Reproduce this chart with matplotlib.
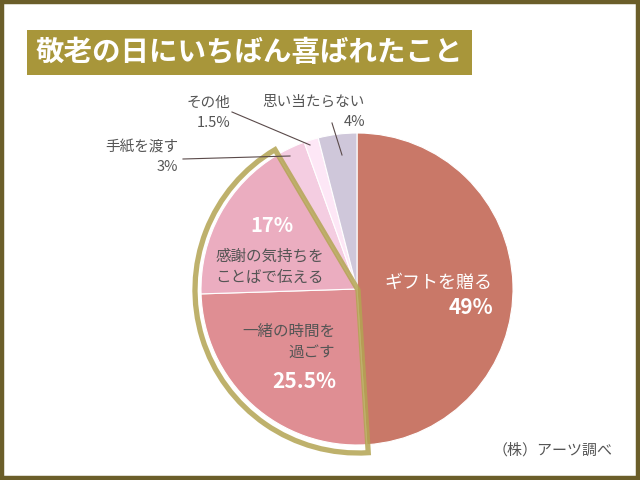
import matplotlib
matplotlib.use('Agg')
import matplotlib.pyplot as plt
from matplotlib.patches import Rectangle, Wedge

plt.rcParams['font.family'] = ['Noto Sans CJK JP', 'DejaVu Sans']

#%% データ
title = '敬老の日にいちばん喜ばれたこと'
labels = ['ギフトを贈る', '一緒の時間を過ごす', '感謝の気持ちをことばで伝える',
          '手紙を渡す', 'その他', '思い当たらない']
values = [49, 25.5, 17, 3, 1.5, 4]
colors = ['#c97868', '#df8e93', '#ebadc0', '#f4cde1', '#fde7f6', '#cfc7da']
source = '（株）アーツ調べ'

#%% 図 (ピクセル座標で描く)
H = 480
fig = plt.figure(figsize=(6.4, 4.8), dpi=100)
ax = fig.add_axes([0, 0, 1, 1])

cx, cy, r = 357, H - 289, 156
ax.pie(values, colors=colors, startangle=90, counterclock=False,
       center=(cx, cy), radius=r,
       wedgeprops=dict(edgecolor='white', linewidth=0.8))

# 強調枠 (一緒の時間 + 感謝)
a1 = 90 - (values[0] + values[1] + values[2]) / 100 * 360
a2 = 90 - values[0] / 100 * 360
ax.add_patch(Wedge((cx + 1, cy - 1), 163, a1, a2, fill=False,
                   edgecolor='#b3a452', alpha=0.85, linewidth=3.8,
                   joinstyle='miter'))

ax.set_xlim(0, 640)
ax.set_ylim(0, H)
ax.set_aspect('equal')
ax.axis('off')

# 外枠
ax.add_patch(Rectangle((2, 2), 636, H - 4, fill=False, edgecolor='#6b5e2a',
                       linewidth=3.2, clip_on=False))

# タイトル
ax.add_patch(Rectangle((27, H - 75), 445, 45, facecolor='#a8963a', edgecolor='none'))
ax.text(249, H - 53, title, color='white', fontsize=20.5, fontweight='bold',
        ha='center', va='center')

gray = '#555555'
# ラベル (扇形内)
ax.text(492, H - 283, labels[0], color='white', fontsize=13, ha='right', va='center')
ax.text(493, H - 308, f'{values[0]:g}%', color='white', fontsize=15,
        fontweight='bold', ha='right', va='center')
ax.text(335, H - 342, '一緒の時間を\n過ごす', color=gray, fontsize=11.2,
        ha='right', va='center', linespacing=1.35, multialignment='right')
ax.text(304, H - 382, f'{values[1]:g}%', color='white', fontsize=15,
        fontweight='bold', ha='center', va='center')
ax.text(272, H - 225, f'{values[2]:g}%', color='white', fontsize=14.5,
        fontweight='bold', ha='center', va='center')
ax.text(270, H - 267, '感謝の気持ちを\nことばで伝える', color=gray, fontsize=11.2,
        ha='center', va='center', linespacing=1.35)

# ラベル (外側, 引き出し線)
ax.text(365, H - 102, labels[5], color=gray, fontsize=10.5, ha='right', va='center')
ax.text(365, H - 122, f'{values[5]:g}%', color=gray, fontsize=10.5, ha='right', va='center')
ax.plot([332, 342], [H - 123, H - 155], color='#5a4a4a', linewidth=0.8)

ax.text(230, H - 103, labels[4], color=gray, fontsize=10.5, ha='right', va='center')
ax.text(230, H - 123, f'{values[4]:g}%', color=gray, fontsize=10.5, ha='right', va='center')
ax.plot([232, 310], [H - 112, H - 145], color='#5a4a4a', linewidth=0.8)

ax.text(178, H - 147, labels[3], color=gray, fontsize=10.5, ha='right', va='center')
ax.text(178, H - 167, f'{values[3]:g}%', color=gray, fontsize=10.5, ha='right', va='center')
ax.plot([183, 290], [H - 159, H - 156], color='#5a4a4a', linewidth=0.8)

# 出典
ax.text(613, H - 450, source, color=gray, fontsize=10.8, ha='right', va='center')

fig.savefig('out.png', dpi=100)
